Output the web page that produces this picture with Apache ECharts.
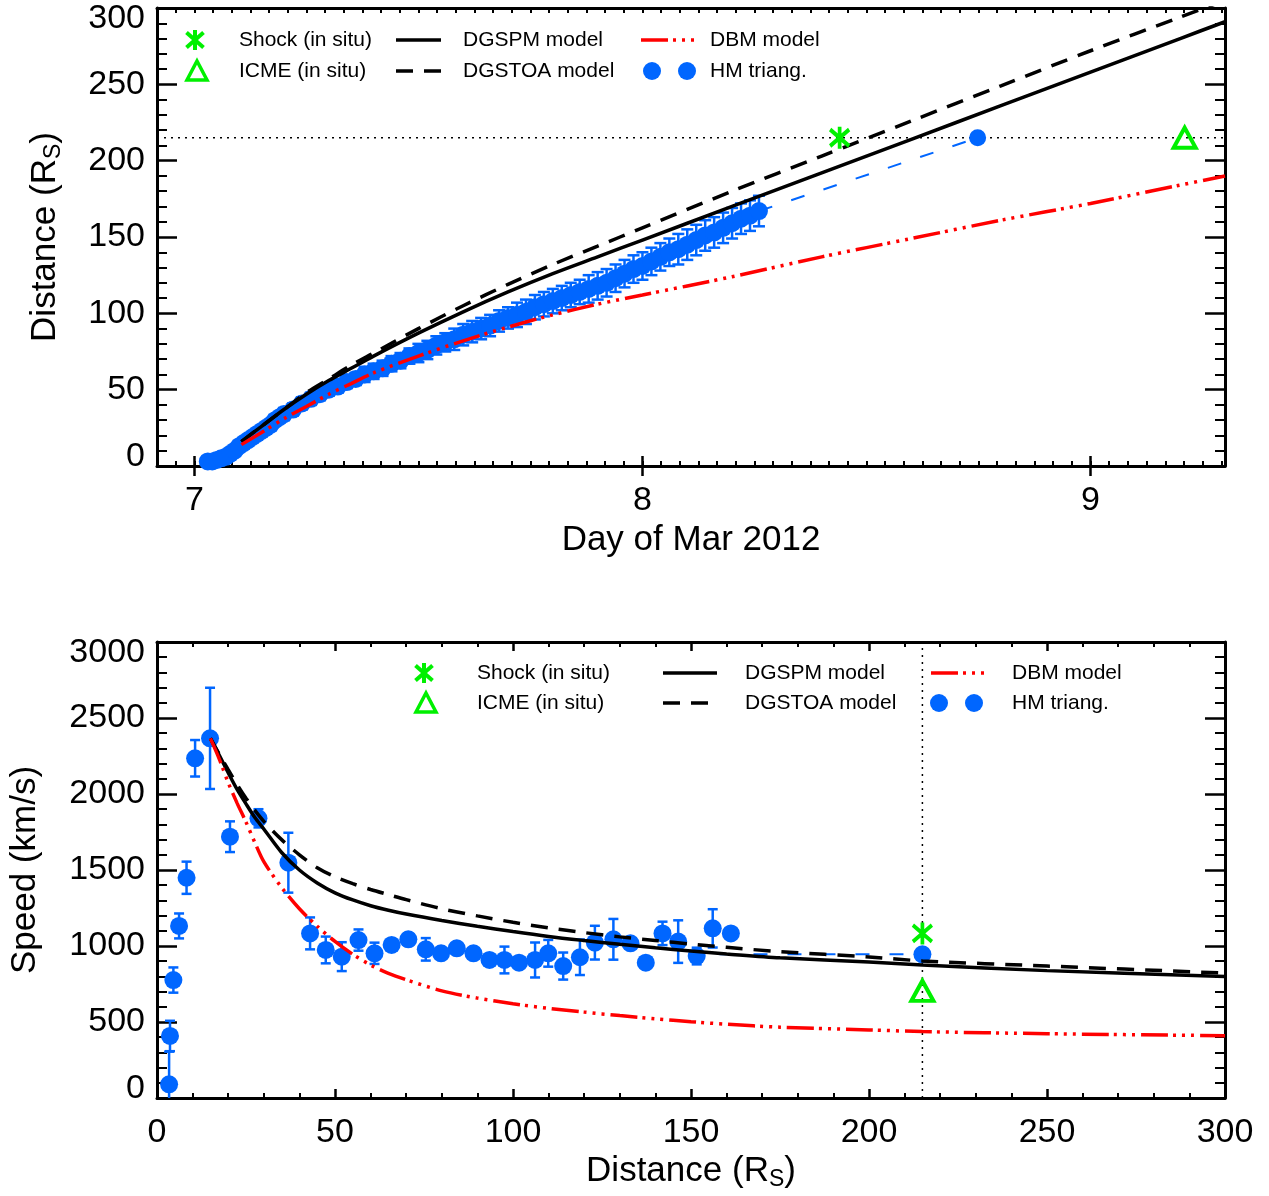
<!DOCTYPE html>
<html>
<head>
<meta charset="utf-8">
<script src="https://cdn.jsdelivr.net/npm/echarts@6/dist/echarts.min.js"></script>
<style>
  html, body { margin: 0; padding: 0; background: #fff; }
  #chart { width: 1269px; height: 1196px; }
</style>
</head>
<body>
<div id="chart"></div>
<script>
// ---- top panel: distance vs time (day of Mar 2012, R_S)
const hmDays = [7.03, 7.04, 7.05, 7.06, 7.07, 7.08, 7.09, 7.10, 7.11, 7.12, 7.13, 7.14, 7.15, 7.16, 7.17, 7.18, 7.19, 7.20,
  7.22, 7.24, 7.26, 7.28, 7.30, 7.32, 7.34, 7.36, 7.38, 7.40, 7.42, 7.44, 7.46, 7.48, 7.50, 7.52, 7.54, 7.56, 7.58, 7.60,
  7.62, 7.64, 7.66, 7.68, 7.70, 7.72, 7.74, 7.76, 7.78, 7.80, 7.82, 7.84, 7.86, 7.88, 7.90, 7.92, 7.94, 7.96, 7.98, 8.00,
  8.02, 8.04, 8.06, 8.08, 8.10, 8.12, 8.14, 8.16, 8.18, 8.20, 8.22, 8.24, 8.26];
const hmDist = [3, 3, 4, 5, 6, 8, 10, 13, 15, 17, 19, 21, 23, 25, 27, 30, 32, 34,
  37, 41, 44, 47, 50, 52, 55, 57, 60, 62, 64, 67, 69, 72, 74, 76, 79, 81, 83, 86,
  88, 90, 92, 95, 97, 99, 101, 104, 106, 108, 110, 112, 114, 116, 118, 120, 123, 126, 129, 131,
  134, 137, 140, 142, 145, 148, 151, 153, 156, 159, 162, 164, 167];
const hmDistErr = [3, 3, 3, 3, 3, 3, 3, 3, 3, 3, 3, 3, 3, 3, 3, 3, 3, 4,
  4, 4, 4, 4, 4, 4, 4, 4, 5, 5, 5, 5, 5, 5, 6, 6, 6, 6, 7, 7,
  7, 7, 7, 7, 7, 8, 8, 8, 8, 8, 8, 8, 8, 9, 9, 9, 9, 9, 9, 9,
  9, 9, 9, 10, 10, 10, 10, 10, 10, 10, 10, 10, 10];

const modelDays = [7.105, 7.15, 7.2, 7.25, 7.3, 7.35, 7.4, 7.5, 7.6, 7.7, 7.8, 7.9, 8.0, 8.2, 8.4, 8.6, 8.8, 9.0, 9.2, 9.3];
const dgspmDist = [16, 26, 37, 47, 56, 64, 72, 87, 101, 114, 126, 137, 148, 170, 192, 214, 236, 258, 280, 291];
const dgstoaDist = [16, 26, 37, 48, 57, 66, 74, 90, 105, 119, 132, 144, 156, 180, 203, 226, 249, 272, 294, 305];
const dbmDist = [14, 22, 31, 39, 47, 54, 61, 72, 82, 91, 99, 106, 112, 124, 137, 149, 161, 172, 184, 190];

const auDist = 215;
const shockDay = 8.44;
const icmeDay = 9.21;
const hmArrivalDay = 8.748;
const dayTicks = [7, 8, 9];

// ---- bottom panel: speed vs distance
const hmR = [3.4, 3.65, 4.6, 6.2, 8.3, 10.7, 14.9, 20.5, 28.5, 36.9, 43.0, 47.4, 51.9, 56.6, 61.1, 65.9, 70.6, 75.5,
  79.8, 84.2, 88.9, 93.4, 97.6, 101.7, 106.2, 109.9, 114.1, 118.8, 123.0, 128.2, 133.0, 137.3, 142.0, 146.4,
  151.6, 156.1, 161.2];
const hmSpeed = [90, 408, 776, 1132, 1449, 2235, 2366, 1719, 1840, 1548, 1083, 974, 930, 1039, 952, 1007, 1044, 978,
  952, 985, 952, 908, 908, 890, 908, 952, 868, 926, 1022, 1044, 1018, 890, 1083, 1029,
  934, 1116, 1083];
const hmSpeedErr = [215, 100, 83, 82, 106, 120, 333, 101, 60, 197, 105, 88, 95, 70, 70, 20, 40, 74,
  30, 25, 20, 25, 88, 20, 115, 88, 89, 117, 111, 134, 20, 25, 77, 140,
  55, 126, 20];

const modelR = [15, 17.5, 20, 22.5, 25, 27.5, 30, 35, 40, 45, 50, 55, 60, 65, 70, 80, 90, 100, 110, 120, 130, 140, 150, 160, 175, 200, 215, 250, 300];
const dgspmSpeed = [2366, 2255, 2140, 2030, 1935, 1845, 1770, 1615, 1500, 1415, 1350, 1303, 1265, 1235, 1210, 1168, 1130, 1095, 1063, 1036, 1011, 988, 967, 948, 922, 895, 875, 838, 800];
const dgstoaSpeed = [2366, 2262, 2160, 2062, 1972, 1892, 1820, 1700, 1600, 1515, 1455, 1410, 1372, 1338, 1305, 1245, 1198, 1156, 1119, 1088, 1060, 1036, 1013, 991, 963, 928, 902, 868, 822];
const dbmSpeed = [2366, 2230, 2075, 1940, 1815, 1680, 1555, 1385, 1245, 1130, 1030, 945, 875, 820, 778, 705, 657, 620, 590, 565, 542, 521, 502, 485, 466, 448, 437, 423, 410];

const hmConstSpeed = 945;
const hmConstFromR = 158;
const shockSpeed = 1083;
const icmeSpeed = 705;

const BLUE = '#0066ff';
const GREEN = '#00f000';
const RED = '#ff0000';
const FONT = "'Liberation Sans', Arial, Helvetica, sans-serif";
const XMIN = 7 - 2 / 24;
const XMAX = 9.3;

const pairs = (xs, ys) => xs.map((x, i) => [x, ys[i]]);
const triples = (xs, ys, es) => xs.map((x, i) => [x, ys[i], es[i]]);

function errorBars(capHalf) {
  return function (params, api) {
    const x = api.value(0), y = api.value(1), e = api.value(2);
    const hi = api.coord([x, y + e]);
    const lo = api.coord([x, y - e]);
    const style = { stroke: BLUE, lineWidth: 2.5 };
    return {
      type: 'group',
      children: [
        { type: 'line', shape: { x1: hi[0], y1: hi[1], x2: lo[0], y2: lo[1] }, style },
        { type: 'line', shape: { x1: hi[0] - capHalf, y1: hi[1], x2: hi[0] + capHalf, y2: hi[1] }, style },
        { type: 'line', shape: { x1: lo[0] - capHalf, y1: lo[1], x2: lo[0] + capHalf, y2: lo[1] }, style }
      ]
    };
  };
}

const axisLine = { show: true, onZero: false, lineStyle: { color: '#000', width: 3 } };
const noLine = { show: false };
const labelStyle = { color: '#000', fontSize: 34, fontFamily: FONT };
const nameStyle = {
  color: '#000', fontSize: 35, fontFamily: FONT,
  rich: { s: { fontSize: 23, fontFamily: FONT, color: '#000', padding: [16, 0, 0, 0] } }
};

// x axes of the time panel: hourly ticks + day ticks, mirrored on top
function dayAxis(position, major, withLabels) {
  const ax = {
    type: 'value', gridIndex: 0, position, min: XMIN, max: XMAX,
    splitLine: { show: false },
    axisLine: major ? noLine : axisLine
  };
  if (major) {
    ax.axisTick = { show: true, inside: true, length: 10, customValues: dayTicks, lineStyle: { color: '#000', width: 2.5 } };
    ax.axisLabel = withLabels
      ? Object.assign({ show: true, margin: 18, customValues: dayTicks, formatter: v => String(Math.round(v)) }, labelStyle)
      : { show: false };
    if (withLabels) {
      ax.name = 'Day of Mar 2012';
      ax.nameLocation = 'middle';
      ax.nameGap = 57;
      ax.nameTextStyle = nameStyle;
    }
  } else {
    ax.interval = 1 / 24;
    ax.axisTick = { show: true, inside: true, length: 5, lineStyle: { color: '#000', width: 2 } };
    ax.axisLabel = { show: false };
  }
  return ax;
}

function valueAxis(gridIndex, position, min, max, interval, tickLen, minorLen, withLabels, name, nameGap) {
  const vertical = position === 'left';
  const ax = {
    type: 'value', gridIndex, position, min, max, interval,
    splitLine: { show: false },
    axisLine,
    axisTick: { show: true, inside: true, length: tickLen, lineStyle: { color: '#000', width: 2.5 } },
    minorTick: { show: true, splitNumber: 5, length: minorLen, lineStyle: { color: '#000', width: 2 } },
    axisLabel: withLabels
      ? Object.assign({
          show: true, margin: vertical ? 12 : 18,
          // nudge the end labels inward, as the original plot does
          formatter: v => vertical && v === min ? '{lo|' + v + '}' : vertical && v === max ? '{hi|' + v + '}' : String(v),
          rich: {
            lo: { fontSize: 34, fontFamily: FONT, color: '#000', padding: [0, 0, 19, 0] },
            hi: { fontSize: 34, fontFamily: FONT, color: '#000', padding: [22, 0, 0, 0] }
          }
        }, labelStyle)
      : { show: false }
  };
  if (name) {
    ax.name = name;
    ax.nameLocation = 'middle';
    ax.nameGap = nameGap;
    ax.nameTextStyle = nameStyle;
  }
  return ax;
}

const asterisk = 'path://M0,-10L0,10M-8.5,-7.5L8.5,7.5M-8.5,7.5L8.5,-7.5';

function legend(rows, cols) {
  const [y1, y2] = rows;
  const el = [];
  const text = (x, y, t) => ({ type: 'text', x, y, style: { text: t, fontSize: 21, fontFamily: FONT, fill: '#000', verticalAlign: 'middle', align: 'left' } });
  const seg = (x1, ya, x2, yb, stroke, dash, w) => ({ type: 'line', shape: { x1, y1: ya, x2, y2: yb }, style: { stroke, lineWidth: w || 3.5, lineDash: dash || null } });
  const m = cols.mark;
  el.push(seg(m, y1 - 10, m, y1 + 10, GREEN, null, 4));
  el.push(seg(m - 8.5, y1 - 7.5, m + 8.5, y1 + 7.5, GREEN, null, 4));
  el.push(seg(m - 8.5, y1 + 7.5, m + 8.5, y1 - 7.5, GREEN, null, 4));
  el.push({ type: 'polygon', shape: { points: [[m + 2, y2 - 10], [m + 12, y2 + 9], [m - 8, y2 + 9]] }, style: { stroke: GREEN, lineWidth: 3.5, fill: null } });
  el.push(text(cols.t1, y1, 'Shock (in situ)'), text(cols.t1, y2, 'ICME (in situ)'));
  el.push(seg(cols.l1, y1, cols.l2, y1, '#000'), seg(cols.l1, y2, cols.l2, y2, '#000', [17, 11]));
  el.push(text(cols.t2, y1, 'DGSPM model'), text(cols.t2, y2, 'DGSTOA model'));
  el.push(seg(cols.r1, y1, cols.r2, y1, RED, [27, 5, 3, 6, 3, 6, 3, 6]));
  el.push({ type: 'circle', shape: { cx: cols.c1, cy: y2, r: 9 }, style: { fill: BLUE } });
  el.push({ type: 'circle', shape: { cx: cols.c2, cy: y2, r: 9 }, style: { fill: BLUE } });
  el.push(text(cols.t3, y1, 'DBM model'), text(cols.t3, y2, 'HM triang.'));
  return el;
}

const modelLine = (xi, yi, data, color, type, z) => ({
  type: 'line', xAxisIndex: xi, yAxisIndex: yi, data, smooth: 0.3, symbol: 'none', z,
  lineStyle: { color, width: 3.5, type, cap: 'butt' }, silent: true
});
const dot = (xi, yi, data, size, z) => ({
  type: 'scatter', xAxisIndex: xi, yAxisIndex: yi, data, symbol: 'circle', symbolSize: size,
  itemStyle: { color: BLUE, opacity: 1 }, z, silent: true
});
const greenMark = (xi, yi, data, symbol, size) => ({
  type: 'scatter', xAxisIndex: xi, yAxisIndex: yi, data, symbol, symbolSize: size,
  itemStyle: { color: 'rgba(0,0,0,0)', borderColor: GREEN, borderWidth: 4, opacity: 1 }, z: 7, silent: true
});

const chart = echarts.init(document.getElementById('chart'), null, { renderer: 'canvas' });
chart.setOption({
  animation: false,
  backgroundColor: '#fff',
  grid: [
    { left: 157, right: 44, top: 8, height: 458 },
    { left: 157, right: 44, top: 642, height: 456 }
  ],
  xAxis: [
    dayAxis('bottom', false, false),
    dayAxis('bottom', true, true),
    dayAxis('top', false, false),
    dayAxis('top', true, false),
    valueAxis(1, 'bottom', 0, 300, 50, 9, 5, true, 'Distance (R{s|S})', 54),
    valueAxis(1, 'top', 0, 300, 50, 9, 5, false)
  ],
  yAxis: [
    valueAxis(0, 'left', 0, 300, 50, 20, 10, true, 'Distance (R{s|S})', 92),
    valueAxis(0, 'right', 0, 300, 50, 20, 10, false),
    valueAxis(1, 'left', 0, 3000, 500, 20, 10, true, 'Speed (km/s)', 114),
    valueAxis(1, 'right', 0, 3000, 500, 20, 10, false)
  ],
  graphic: legend([40, 71], { mark: 195, t1: 239, l1: 396, l2: 441, t2: 463, r1: 641, r2: 695, c1: 652, c2: 687, t3: 710 })
    .concat(legend([673, 703], { mark: 424, t1: 477, l1: 663, l2: 717, t2: 745, r1: 931, r2: 985, c1: 939, c2: 974, t3: 1012 })),
  series: [
    // ---- top panel
    { type: 'line', xAxisIndex: 0, yAxisIndex: 0, data: [[XMIN, auDist], [XMAX, auDist]], symbol: 'none', silent: true,
      lineStyle: { color: '#000', width: 1.5, type: [2, 5] }, z: 1 },
    { type: 'custom', xAxisIndex: 0, yAxisIndex: 0, renderItem: errorBars(6), clip: true,
      data: triples(hmDays, hmDist, hmDistErr), encode: { x: 0, y: 1 }, z: 2, silent: true },
    dot(0, 0, pairs(hmDays, hmDist), 18, 3),
    { type: 'line', xAxisIndex: 0, yAxisIndex: 0,
      data: [[hmDays[hmDays.length - 1], hmDist[hmDist.length - 1]], [hmArrivalDay, auDist]],
      symbol: 'none', silent: true, lineStyle: { color: BLUE, width: 2, type: [14, 20] }, z: 3 },
    dot(0, 0, [[hmArrivalDay, auDist]], 17, 4),
    modelLine(0, 0, pairs(modelDays, dgspmDist), '#000', 'solid', 5),
    modelLine(0, 0, pairs(modelDays, dgstoaDist), '#000', [17, 11], 5),
    modelLine(0, 0, pairs(modelDays, dbmDist), RED, [27, 5, 3, 6, 3, 6, 3, 6], 6),
    greenMark(0, 0, [[shockDay, auDist]], asterisk, [19, 22]),
    greenMark(0, 0, [[icmeDay, auDist]], 'triangle', [22, 20]),

    // ---- bottom panel
    { type: 'line', xAxisIndex: 4, yAxisIndex: 2, data: [[auDist, 0], [auDist, 3000]], symbol: 'none', silent: true,
      lineStyle: { color: '#000', width: 1.5, type: [2, 5] }, z: 1 },
    { type: 'custom', xAxisIndex: 4, yAxisIndex: 2, renderItem: errorBars(5), clip: true,
      data: triples(hmR, hmSpeed, hmSpeedErr), encode: { x: 0, y: 1 }, z: 2, silent: true },
    dot(4, 2, pairs(hmR, hmSpeed), 18, 3),
    { type: 'line', xAxisIndex: 4, yAxisIndex: 2, data: [[hmConstFromR, hmConstSpeed], [auDist, hmConstSpeed]],
      symbol: 'none', silent: true, lineStyle: { color: BLUE, width: 2, type: [14, 20] }, z: 3 },
    dot(4, 2, [[auDist, hmConstSpeed]], 18, 4),
    modelLine(4, 2, pairs(modelR, dgspmSpeed), '#000', 'solid', 5),
    modelLine(4, 2, pairs(modelR, dgstoaSpeed), '#000', [17, 11], 5),
    modelLine(4, 2, pairs(modelR, dbmSpeed), RED, [27, 5, 3, 6, 3, 6, 3, 6], 6),
    greenMark(4, 2, [[auDist, shockSpeed]], asterisk, [19, 22]),
    greenMark(4, 2, [[auDist, icmeSpeed]], 'triangle', [22, 20])
  ]
});
</script>
</body>
</html>
